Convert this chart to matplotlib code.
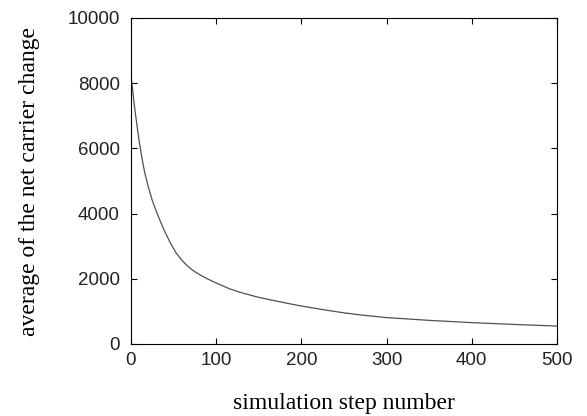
import matplotlib
matplotlib.use("Agg")
import matplotlib.pyplot as plt

# Data
steps = [0, 1, 2, 3, 5, 8, 10, 13, 16, 20, 25, 30, 35, 40, 46, 53, 60, 66, 73, 81, 90,
         100, 116, 130, 150, 170, 186, 200, 225, 250, 270, 300, 350, 400, 450, 500]
avg_change = [8250, 8010, 7770, 7530, 7100, 6520, 6150, 5680, 5270, 4850, 4400, 4050,
              3730, 3430, 3110, 2790, 2560, 2400, 2250, 2120, 1995,
              1870, 1690, 1570, 1430, 1320, 1235, 1165, 1055, 955, 890, 810, 725, 655,
              600, 550]

x_ticks = [0, 100, 200, 300, 400, 500]
y_ticks = [0, 2000, 4000, 6000, 8000, 10000]

fig = plt.figure(figsize=(5.87, 4.16), dpi=100)
ax = fig.add_axes([131/587, 1-344/416, (557-131)/587, (344-18)/416])

ax.plot(steps, avg_change, color="#505050", linewidth=0.9)

ax.set_xlim(0, 500)
ax.set_ylim(0, 10000)
ax.set_xticks(x_ticks)
ax.set_yticks(y_ticks)
ax.tick_params(direction="in", length=4, width=0.8, top=True, right=True,
               labelsize=13.5, colors="black")
ax.tick_params(axis="y", pad=8)
ax.tick_params(axis="x", pad=6)
for lab in ax.get_xticklabels() + ax.get_yticklabels():
    lab.set_family("Liberation Sans")
    lab.set_color("#222222")
for s in ax.spines.values():
    s.set_linewidth(0.8)

ax.set_xlabel("simulation step number", family="Liberation Serif", fontsize=17)
ax.set_ylabel("average of the net carrier change", family="Liberation Serif", fontsize=17)
ax.xaxis.set_label_coords(0.5, -(393 - 344) / 326)
ax.yaxis.set_label_coords((40 - 131) / 426, 0.5)

fig.savefig("out.png", dpi=100)
